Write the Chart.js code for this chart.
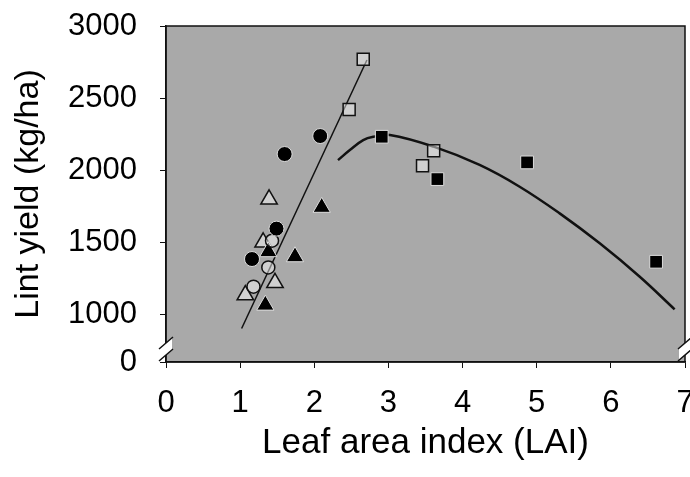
<!DOCTYPE html>
<html>
<head>
<meta charset="utf-8">
<script src="https://cdn.jsdelivr.net/npm/chart.js@4/dist/chart.umd.min.js"></script>
<style>
  html, body { margin: 0; padding: 0; background: #fff; }
  #wrap { width: 690px; height: 477px; }
</style>
</head>
<body>
<div id="wrap"><canvas id="chart" width="690" height="477"></canvas></div>
<script>
// values (LAI, lint yield kg/ha)
const filledCircleX = [1.16, 1.49, 1.60, 2.08];
const filledCircleY = [1382, 1593, 2111, 2236];
const openCircleX = [1.18, 1.38, 1.43];
const openCircleY = [1190, 1324, 1509];
const filledTriangleX = [1.34, 1.38, 1.74, 2.10];
const filledTriangleY = [1062, 1433, 1398, 1741];
const openTriangleX = [1.07, 1.31, 1.39, 1.47];
const openTriangleY = [1132, 1498, 1797, 1217];
const filledSquareX = [2.91, 3.66, 4.87, 6.61];
const filledSquareY = [2231, 1937, 2053, 1363];
const openSquareX = [2.47, 2.66, 3.46, 3.61];
const openSquareY = [2421, 2769, 2030, 2134];

// fitted lines as drawn in the figure
const linearFitX = [1.02, 2.71];
const linearFitY = [900, 2764];
const curveFitX = [2.32, 2.48, 2.66, 2.80, 3.02, 3.61, 4.23, 4.77, 5.31, 5.85, 6.39, 6.86];
const curveFitY = [2069, 2139, 2208, 2231, 2243, 2162, 2035, 1884, 1699, 1491, 1259, 1033];

// broken y axis: "0" sits just below 1000
const yTickValues = [667, 1000, 1500, 2000, 2500, 3000];
const yTickLabels = ['0', '1000', '1500', '2000', '2500', '3000'];
const xTickValues = [0, 1, 2, 3, 4, 5, 6, 7];

const pts = (xs, ys) => xs.map((x, i) => ({ x: x, y: ys[i] }));

const plotBackground = {
    id: 'plotBackground',
    beforeDraw(chart) {
        const { ctx, chartArea: a } = chart;
        ctx.save();
        ctx.fillStyle = '#a9a9a9';
        ctx.fillRect(a.left, a.top, a.right - a.left, a.bottom - a.top);
        ctx.restore();
    },
    afterDraw(chart) {
        const { ctx, chartArea: a } = chart;
        ctx.save();
        // frame
        ctx.strokeStyle = '#111';
        ctx.lineWidth = 1.5;
        ctx.strokeRect(a.left, a.top, a.right - a.left, a.bottom - a.top);
        // axis break marks on both sides
        [a.left, a.right].forEach(x => {
            const y1 = a.bottom - 19, y2 = a.bottom - 7;
            ctx.fillStyle = '#fff';
            ctx.beginPath();
            ctx.moveTo(x - 6, y1 + 5);
            ctx.lineTo(x + 6, y1 - 5);
            ctx.lineTo(x + 6, y2 - 5);
            ctx.lineTo(x - 6, y2 + 5);
            ctx.closePath();
            ctx.fill();
            ctx.beginPath();
            [y1, y2].forEach(cy => {
                ctx.moveTo(x - 7, cy + 6);
                ctx.lineTo(x + 7, cy - 6);
            });
            ctx.stroke();
        });
        ctx.restore();
    }
};

const openFill = 'rgba(255,255,255,0.45)';

new Chart(document.getElementById('chart'), {
    type: 'scatter',
    data: {
        datasets: [
            { data: pts(filledCircleX, filledCircleY), pointStyle: 'circle', pointRadius: 7.5,
              backgroundColor: '#000', borderColor: '#ddd', borderWidth: 1 },
            { data: pts(openCircleX, openCircleY), pointStyle: 'circle', pointRadius: 6.5,
              backgroundColor: openFill, borderColor: '#111', borderWidth: 1.5 },
            { data: pts(filledTriangleX, filledTriangleY), pointStyle: 'triangle', pointRadius: 10,
              backgroundColor: '#000', borderColor: '#ddd', borderWidth: 1 },
            { data: pts(openTriangleX, openTriangleY), pointStyle: 'triangle', pointRadius: 9.5,
              backgroundColor: openFill, borderColor: '#111', borderWidth: 1.5 },
            { data: pts(filledSquareX, filledSquareY), pointStyle: 'rect', pointRadius: 9,
              backgroundColor: '#000', borderColor: '#ddd', borderWidth: 1 },
            { data: pts(openSquareX, openSquareY), pointStyle: 'rect', pointRadius: 8.5,
              backgroundColor: openFill, borderColor: '#111', borderWidth: 1.5 },
            { data: pts(linearFitX, linearFitY), showLine: true, pointRadius: 0,
              borderColor: '#111', borderWidth: 1.5 },
            { data: pts(curveFitX, curveFitY), showLine: true, pointRadius: 0, tension: 0.4,
              borderColor: '#111', borderWidth: 2.5 }
        ]
    },
    options: {
        responsive: false,
        animation: false,
        layout: { autoPadding: false, padding: { top: 26, right: 5, left: 0, bottom: 0 } },
        plugins: {
            legend: { display: false },
            tooltip: { enabled: false }
        },
        scales: {
            x: {
                type: 'linear',
                min: 0,
                max: 7,
                afterBuildTicks: s => { s.ticks = xTickValues.map(v => ({ value: v })); },
                afterFit: s => { s.height = 115; s.paddingLeft = 0; s.paddingRight = 0; },
                grid: { drawOnChartArea: false, tickLength: 6, color: '#111' },
                border: { color: '#111', width: 1.5 },
                ticks: {
                    padding: 17,
                    color: '#000',
                    font: { family: 'Liberation Sans, Arial, sans-serif', size: 31 }
                },
                title: {
                    display: true,
                    text: 'Leaf area index (LAI)',
                    color: '#000',
                    padding: { top: 0, bottom: 13 },
                    font: { family: 'Liberation Sans, Arial, sans-serif', size: 35 }
                }
            },
            y: {
                type: 'linear',
                min: 667,
                max: 3000,
                afterBuildTicks: s => { s.ticks = yTickValues.map(v => ({ value: v })); },
                afterFit: s => { s.width = 166; s.paddingTop = 0; s.paddingBottom = 0; },
                grid: { drawOnChartArea: false, tickLength: 6, color: '#111' },
                border: { color: '#111', width: 1.5 },
                ticks: {
                    padding: 23,
                    color: '#000',
                    callback: (v, i) => yTickLabels[i],
                    font: { family: 'Liberation Sans, Arial, sans-serif', size: 31 }
                },
                title: {
                    display: true,
                    text: 'Lint yield (kg/ha)',
                    color: '#000',
                    padding: { top: 8, bottom: 0 },
                    font: { family: 'Liberation Sans, Arial, sans-serif', size: 34 }
                }
            }
        }
    },
    plugins: [plotBackground]
});
</script>
</body>
</html>
